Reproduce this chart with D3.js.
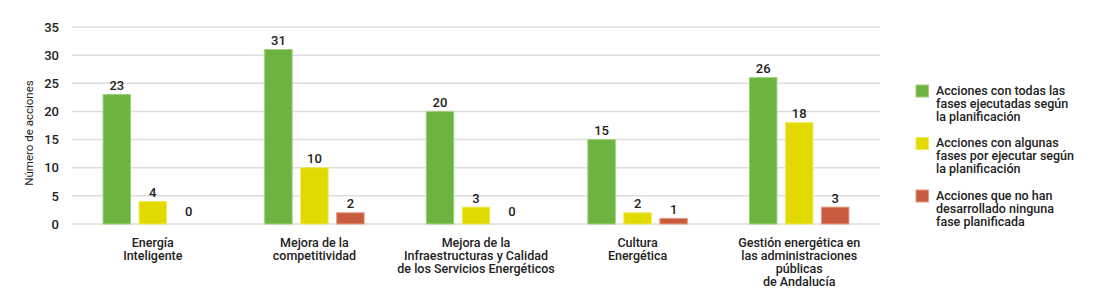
<!DOCTYPE html>
<html><head><meta charset="utf-8">
<script src="https://cdn.jsdelivr.net/npm/d3@7"></script>
<style>
body{margin:0;background:#fff;}
text{font-family:Roboto, "Liberation Sans", sans-serif;}
</style></head>
<body><svg id="c" width="1106" height="296"></svg>
<script>
const categories = [
  ["Energía","Inteligente"],
  ["Mejora de la","competitividad"],
  ["Mejora de la","Infraestructuras y Calidad","de los Servicios Energéticos"],
  ["Cultura","Energética"],
  ["Gestión energética en","las administraciones","públicas","de Andalucía"]
];
const seriesNames = [
  ["Acciones con todas las","fases ejecutadas según","la planificación"],
  ["Acciones con algunas","fases por ejecutar según","la planificación"],
  ["Acciones que no han","desarrollado ninguna","fase planificada"]
];
const todas = [23, 31, 20, 15, 26];
const algunas = [4, 10, 3, 2, 18];
const ninguna = [0, 2, 0, 1, 3];
const yTicks = [0, 5, 10, 15, 20, 25, 30, 35];
const colors = ["#6db33f", "#e2d900", "#c85b3d"];
const strokes = ["#9fd07f", "#f0e860", "#e59a85"];

const series = [todas, algunas, ninguna];
const svg = d3.select("#c");
const m = {l: 72, r: 880, t: 27, b: 224};
const x = d3.scaleBand().domain(d3.range(categories.length)).range([m.l, m.r]);
const y = d3.scaleLinear().domain([0, 35]).range([m.b, m.t]);
const barW = 27.5, step = 36;

// grid
svg.append("g").selectAll("line").data(yTicks).join("line")
  .attr("x1", m.l).attr("x2", m.r)
  .attr("y1", d => y(d)).attr("y2", d => y(d))
  .attr("stroke", "#dedede").attr("stroke-width", 1.5);

// y axis labels
svg.append("g").selectAll("text").data(yTicks).join("text")
  .attr("x", 59).attr("y", d => y(d)).attr("dy", "0.36em")
  .attr("text-anchor", "end").attr("font-size", 13).attr("font-weight", 500)
  .attr("fill", "#222").text(d => d);

svg.append("text")
  .attr("transform", "translate(33,133) rotate(-90)")
  .attr("text-anchor", "middle").attr("font-size", 11.5).attr("fill", "#222")
  .text("Número de acciones");

// bars
series.forEach((vals, si) => {
  const g = svg.append("g");
  vals.forEach((v, ci) => {
    const cx = x(ci) + x.bandwidth() / 2 + (si - 1) * step;
    if (v > 0) {
      g.append("rect")
        .attr("x", cx - barW / 2).attr("width", barW)
        .attr("y", y(v)).attr("height", y(0) - y(v))
        .attr("fill", colors[si]).attr("stroke", strokes[si]).attr("stroke-width", 1);
    }
    g.append("text")
      .attr("x", cx).attr("y", Math.min(y(v) - 4.5, y(0) - 8))
      .attr("text-anchor", "middle").attr("font-size", 13).attr("font-weight", 500)
      .attr("fill", "#222").text(v);
  });
});

// category labels
categories.forEach((lines, ci) => {
  const t = svg.append("text")
    .attr("x", x(ci) + x.bandwidth() / 2)
    .attr("text-anchor", "middle").attr("font-size", 12.5).attr("font-weight", 500).attr("fill", "#222");
  lines.forEach((ln, li) => {
    t.append("tspan").attr("x", x(ci) + x.bandwidth() / 2).attr("y", 247 + li * 13).text(ln);
  });
});

// legend
seriesNames.forEach((lines, si) => {
  const y0 = 85 + si * 52.5;
  svg.append("rect").attr("x", 916).attr("y", y0).attr("width", 12.5).attr("height", 12)
    .attr("fill", colors[si]).attr("stroke", strokes[si]).attr("stroke-width", 1);
  const t = svg.append("text").attr("font-size", 12.5).attr("font-weight", 500).attr("fill", "#222");
  lines.forEach((ln, li) => {
    t.append("tspan").attr("x", 936).attr("y", y0 + 9.5 + li * 13).text(ln);
  });
});
</script></body></html>
